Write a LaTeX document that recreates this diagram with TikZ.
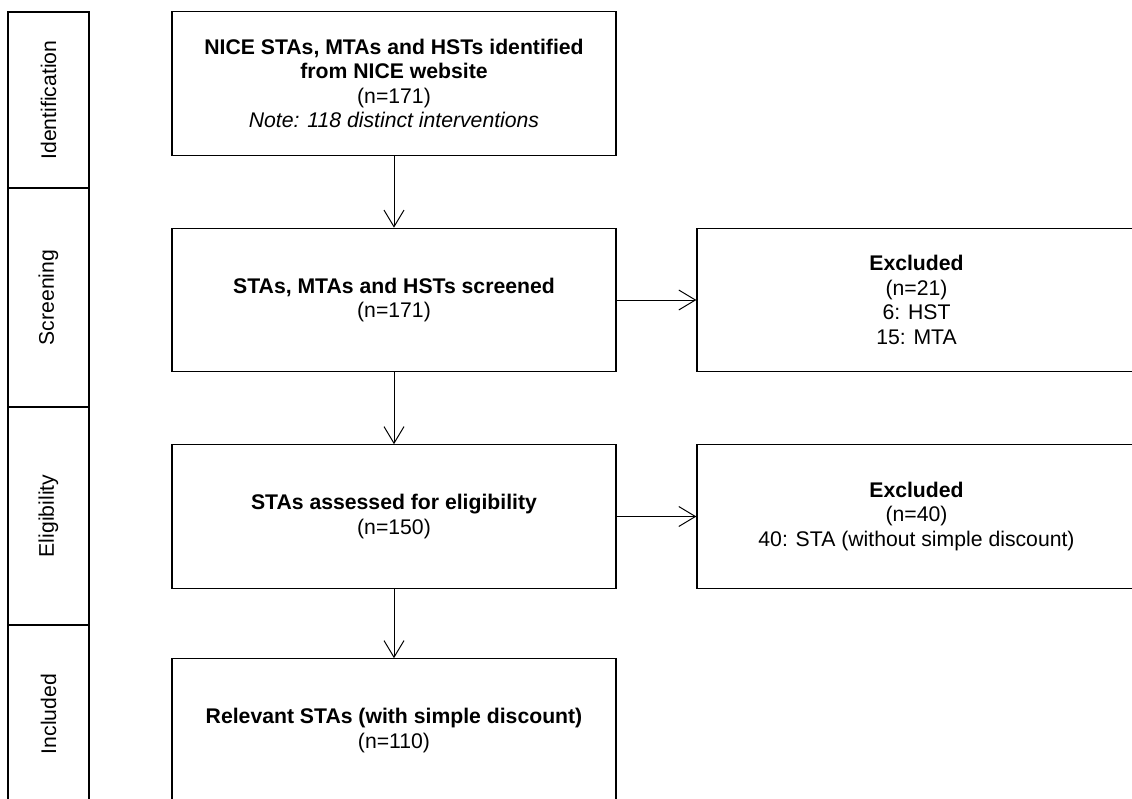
\documentclass[tikz,border=0pt]{standalone}
\usepackage{fontspec}
\setmainfont{Liberation Sans}
\usetikzlibrary{arrows.meta}
\begin{document}
\begin{tikzpicture}[x=0.75pt,y=-0.75pt,
  font=\fontsize{15.9pt}{18.4pt}\selectfont,
  box/.style={draw, line width=0.9pt, rectangle, inner sep=0pt, align=center,
    minimum width=333pt, minimum height=107.5pt},
  exbox/.style={box, minimum width=329.25pt},
  stage/.style={draw, line width=0.9pt, rectangle, inner sep=0pt, rotate=90,
    minimum height=60.75pt},
  flow/.style={line width=0.75pt, -{Straight Barb[length=12.5pt,width=15pt,line width=0.75pt]}}]
\clip (0,0) rectangle (1132,799);
\fill[white] (0,0) rectangle (1132,799);
% stages
\node[stage, minimum width=132pt]   (sid) at (48.5,100)   {Identification};
\node[stage, minimum width=164.25pt](ssc) at (48.5,297.5) {Screening};
\node[stage, minimum width=163.5pt] (sel) at (48.5,516)   {Eligibility};
\node[stage, minimum width=133.5pt] (sin) at (48.5,714)   {Included};
% main boxes
\node[box] (b1) at (394,83.5) {\textbf{NICE STAs, MTAs and HSTs identified}\\\textbf{from NICE website}\\(n=171)\\\textit{Note: 118 distinct interventions}};
\node[box] (b2) at (394,300) {\textbf{STAs, MTAs and HSTs screened}\\(n=171)};
\node[box] (b3) at (394,516.5) {\textbf{STAs assessed for eligibility}\\(n=150)};
\node[box] (b4) at (394,730.5) {\textbf{Relevant STAs (with simple discount)}\\(n=110)};
\node[exbox] (e1) at (916.5,300) {\textbf{Excluded}\\(n=21)\\6: HST\\15: MTA};
\node[exbox] (e2) at (916.5,516.5) {\textbf{Excluded}\\(n=40)\\40: STA (without simple discount)};
% connectors
\draw[flow] (b1) -- (b2);
\draw[flow] (b2) -- (b3);
\draw[flow] (b3) -- (b4);
\draw[flow] (b2) -- (e1);
\draw[flow] (b3) -- (e2);
\end{tikzpicture}
\end{document}
